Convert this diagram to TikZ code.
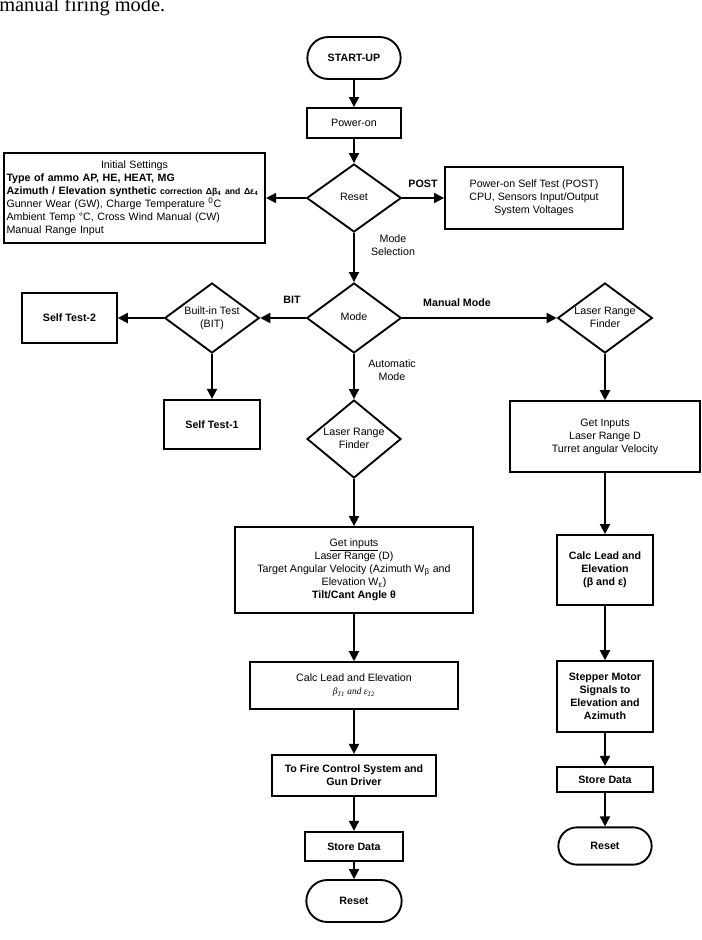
\documentclass[tikz,border=0pt]{standalone}
\usepackage{fontspec}
\setmainfont{Liberation Serif}
\setsansfont{Liberation Sans}
\usetikzlibrary{arrows.meta,shapes.geometric,shapes.misc,positioning}
% text of a decision box, kept out of the diamond's size
\newcommand{\dtext}[1]{\makebox[0pt]{\begin{tabular}{@{}c@{}}#1\end{tabular}}}

\begin{document}
\begin{tikzpicture}[x=0.75pt, y=-0.75pt,
    base/.style={draw, line width=1.4pt, font=\sffamily\fontsize{8}{9.8}\selectfont, align=center, inner sep=1pt},
    boldtxt/.style={font=\sffamily\bfseries\fontsize{8}{9.8}\selectfont},
    procbox/.style={base, rectangle},
    termbox/.style={base, rounded rectangle},
    decbox/.style={base, diamond, inner sep=0pt},
    flow/.style={line width=1.4pt, -{Triangle[length=7.5pt,width=7.5pt]}},
    edgelbl/.style={font=\sffamily\fontsize{8}{9.8}\selectfont, align=center, inner sep=1pt}]
        \useasboundingbox (0,0) rectangle (702,940);
        % Cut-off line of the surrounding text
        \node[anchor=base west, inner sep=0pt, font=\rmfamily\fontsize{15.3}{17}\selectfont] (caption) at (-1,11) {manual firing mode.};
        % Start and power-on
        \node[termbox, boldtxt, minimum width=72pt, minimum height=31.5pt] (startup) at (354,58) {START-UP};
        \node[procbox, minimum width=71pt, minimum height=22.5pt] (poweron) at (354,123) {Power-on};
        % Reset decision with settings and self test
        \node[decbox, minimum width=71pt, minimum height=51pt] (reset) at (354,198) {\dtext{Reset}};
        \node[procbox, text width=192pt, align=left, inner xsep=2pt, minimum height=68pt] (init) at (134.5,198) {\makebox[\linewidth]{Initial Settings}\\
          \textbf{Type of ammo AP, HE, HEAT, MG}\\
          \textbf{Azimuth / Elevation synthetic} {\fontsize{6.5}{8}\selectfont\bfseries correction Δβ\textsubscript{4} and Δε\textsubscript{4}}\\
          Gunner Wear (GW), Charge Temperature \textsuperscript{0}C\\
          Ambient Temp °C, Cross Wind Manual (CW)\\
          Manual Range Input};
        \node[procbox, minimum width=133.5pt, minimum height=46.5pt] (post) at (534,198) {Power-on Self Test (POST)\\CPU, Sensors Input/Output\\System Voltages};
        % Mode decision and built-in test
        \node[decbox, minimum width=71pt, minimum height=52.5pt] (mode) at (354,318) {\dtext{Mode}};
        \node[decbox, minimum width=71pt, minimum height=52.5pt] (bit) at (212,318) {\dtext{Built-in Test\\(BIT)}};
        \node[procbox, boldtxt, minimum width=71pt, minimum height=37pt] (selftwo) at (69.5,318) {Self Test-2};
        \node[procbox, boldtxt, minimum width=72pt, minimum height=37pt] (selfone) at (212,424.5) {Self Test-1};
        % Automatic mode column
        \node[decbox, minimum width=70.5pt, minimum height=58.5pt] (lrfauto) at (354,439) {\dtext{Laser Range\\Finder}};
        \node[procbox, minimum width=178.5pt, minimum height=64.5pt] (getauto) at (354,570) {\underline{Get inputs}\\
          Laser Range (D)\\
          Target Angular Velocity (Azimuth W\textsubscript{β} and\\
          Elevation W\textsubscript{ε})\\
          \textbf{Tilt/Cant Angle θ}};
        \node[procbox, minimum width=156pt, minimum height=35pt] (calcauto) at (354,685.5) {Calc Lead and Elevation\\{\rmfamily\itshape\fontsize{7}{8}\selectfont β\textsubscript{T1} and ε\textsubscript{T2}}};
        \node[procbox, boldtxt, minimum width=123pt, minimum height=31pt] (firectl) at (354,775.5) {To Fire Control System and\\Gun Driver};
        \node[procbox, boldtxt, minimum width=73pt, minimum height=22pt] (storeauto) at (354,846.5) {Store Data};
        \node[termbox, boldtxt, minimum width=73.5pt, minimum height=31.5pt] (resetauto) at (354,901) {Reset};
        % Manual mode column
        \node[decbox, minimum width=71pt, minimum height=52.5pt] (lrfman) at (605,318) {\dtext{Laser Range\\Finder}};
        \node[procbox, minimum width=142.5pt, minimum height=53pt] (getman) at (605,436.5) {Get Inputs\\Laser Range D\\Turret angular Velocity};
        \node[procbox, boldtxt, minimum width=72pt, minimum height=52.5pt] (calcman) at (605,570) {Calc Lead and\\Elevation\\(β and ε)};
        \node[procbox, boldtxt, minimum width=72pt, minimum height=53pt] (stepper) at (605,696.5) {Stepper Motor\\Signals to\\Elevation and\\Azimuth};
        \node[procbox, boldtxt, minimum width=72pt, minimum height=19pt] (storeman) at (605,779.5) {Store Data};
        \node[termbox, boldtxt, minimum width=72pt, minimum height=28pt] (resetman) at (605,846) {Reset};
        % Branch labels
        \node[edgelbl, boldtxt] (lblpost) at (423,184) {POST};
        \node[edgelbl] (lblsel) at (393,245.5) {Mode\\Selection};
        \node[edgelbl, boldtxt] (lblbit) at (292,300) {BIT};
        \node[edgelbl, boldtxt] (lblman) at (457,303) {Manual Mode};
        \node[edgelbl] (lblauto) at (392,370.5) {Automatic\\Mode};
        % Connectors
        \draw[flow] (startup) -- (poweron);
        \draw[flow] (poweron) -- (reset);
        \draw[flow] (reset) -- (init);
        \draw[flow] (reset) -- (post);
        \draw[flow] (reset) -- (mode);
        \draw[flow] (mode) -- (bit);
        \draw[flow] (bit) -- (selftwo);
        \draw[flow] (bit) -- (selfone);
        \draw[flow] (mode) -- (lrfman);
        \draw[flow] (mode) -- (lrfauto);
        \draw[flow] (lrfauto) -- (getauto);
        \draw[flow] (getauto) -- (calcauto);
        \draw[flow] (calcauto) -- (firectl);
        \draw[flow] (firectl) -- (storeauto);
        \draw[flow] (storeauto) -- (resetauto);
        \draw[flow] (lrfman) -- (getman);
        \draw[flow] (getman) -- (calcman);
        \draw[flow] (calcman) -- (stepper);
        \draw[flow] (stepper) -- (storeman);
        \draw[flow] (storeman) -- (resetman);
\end{tikzpicture}
\end{document}
